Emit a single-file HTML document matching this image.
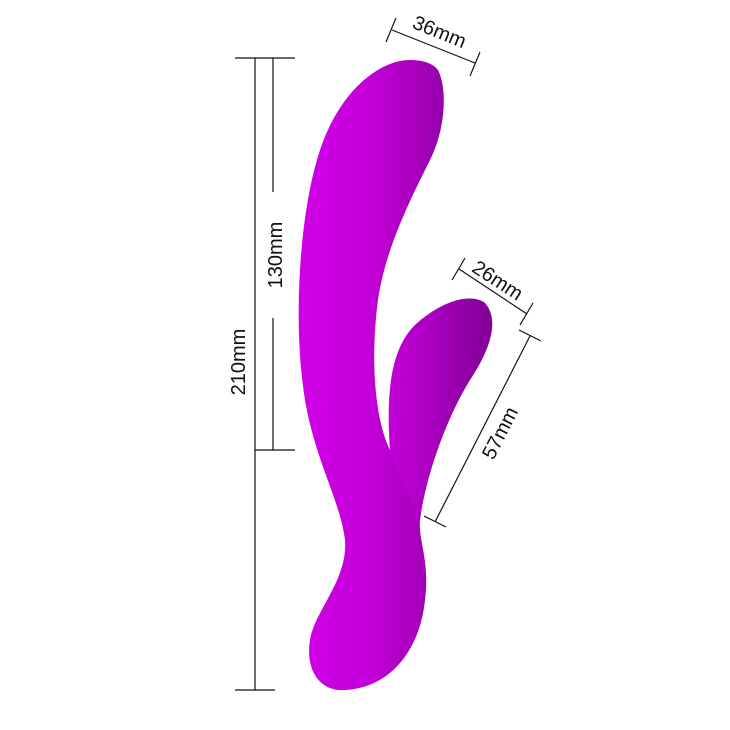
<!DOCTYPE html>
<html><head><meta charset="utf-8"><style>html,body{margin:0;padding:0;background:#fff}svg{display:block}text{font-family:"Liberation Sans",sans-serif;font-size:20px;fill:#111}</style></head>
<body>
<svg width="730" height="730" viewBox="0 0 730 730">
<defs>
<linearGradient id="g" x1="0" y1="0" x2="1" y2="0">
<stop offset="0" stop-color="#d000e6"/><stop offset="0.35" stop-color="#c400da"/><stop offset="1" stop-color="#7a008e"/>
</linearGradient>
<linearGradient id="g2" x1="0" y1="0" x2="1" y2="0">
<stop offset="0" stop-color="#d000e6"/><stop offset="1" stop-color="#8a009e"/>
</linearGradient>
</defs>
<path fill="url(#g)" d="M410,60 C380,60 340,90 320,150 C300,210 292,320 305,400 C315,460 340,500 345,540 C348,580 315,610 310,640 C305,670 320,692 345,690 C390,688 420,650 425,600 C430,560 418,540 420,520 C425,480 445,420 470,380 C490,350 500,320 485,303 C470,292 440,302 415,325 C395,345 385,380 390,450 C375,420 370,360 378,300 C385,250 410,200 430,160 C445,130 448,90 438,70 C432,62 420,60 410,60 Z"/>
<path fill="url(#g2)" opacity="0.5" d="M420,520 C425,480 445,420 470,380 C490,350 500,320 485,303 C470,292 440,302 415,325 C395,345 385,380 390,450 C400,480 410,500 420,520 Z"/>
<g stroke="#111" stroke-width="1.2" fill="none">
<line x1="255" y1="58" x2="255" y2="690"/>
<line x1="235" y1="58" x2="295" y2="58"/>
<line x1="255" y1="450" x2="295" y2="450"/>
<line x1="235" y1="690" x2="275" y2="690"/>
<line x1="273" y1="58" x2="273" y2="192"/>
<line x1="273" y1="318" x2="273" y2="450"/>
<line x1="392" y1="30" x2="475" y2="63"/>
<line x1="386" y1="42" x2="396" y2="18"/>
<line x1="470" y1="76" x2="480" y2="52"/>
<line x1="459" y1="269" x2="527" y2="314"/>
<line x1="452" y1="280" x2="465" y2="258"/>
<line x1="520" y1="325" x2="533" y2="303"/>
<line x1="530" y1="336" x2="435" y2="522"/>
<line x1="519" y1="330" x2="541" y2="341"/>
<line x1="424" y1="516" x2="446" y2="527"/>
</g>
<text transform="translate(245,362) rotate(-90)" text-anchor="middle">210mm</text>
<text transform="translate(282,255) rotate(-90)" text-anchor="middle">130mm</text>
<text transform="translate(437,38) rotate(22)" text-anchor="middle">36mm</text>
<text transform="translate(494,286) rotate(33)" text-anchor="middle">26mm</text>
<text transform="translate(506,436) rotate(-63)" text-anchor="middle">57mm</text>
</svg>
</body></html>
